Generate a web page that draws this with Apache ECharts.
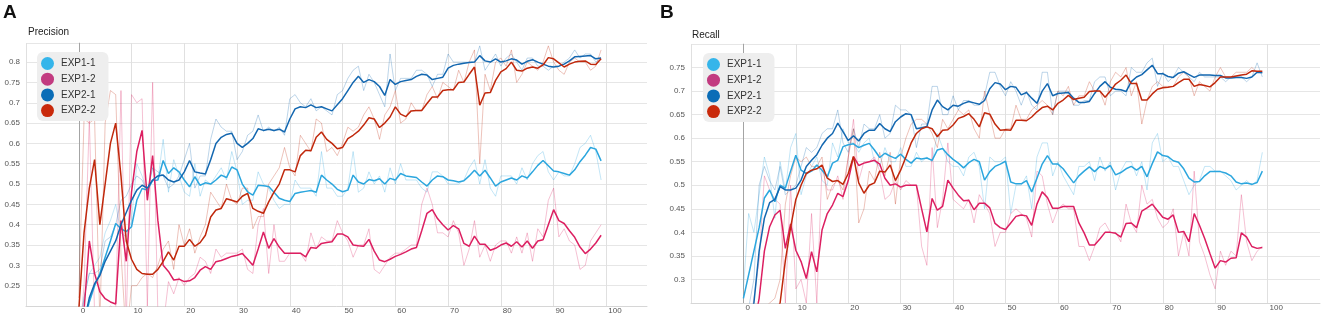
<!DOCTYPE html>
<html>
<head>
<meta charset="utf-8">
<title>Precision / Recall</title>
<script src="https://cdn.jsdelivr.net/npm/echarts@6/dist/echarts.min.js"></script>
<style>
  html, body { margin: 0; padding: 0; background: #fff; }
  #chart { width: 1325px; height: 325px; }
</style>
</head>
<body>
<div id="chart"></div>
<script>
const names = ["EXP1-1", "EXP1-2", "EXP2-1", "EXP2-2"];
const lineColors = ["#2ba6de", "#dc1f61", "#1367b0", "#c0280c"];
const legendColors = ["#35b5ea", "#c23b80", "#0b6db7", "#c9290b"];

// Precision, smoothed
const precS11 = [
  0.12,0.16,0.21,0.25,0.28,0.32,0.36,0.403,0.39,0.383,
  0.395,0.46,0.489,0.485,0.509,0.51,0.558,0.526,0.54,0.53,
  0.51,0.493,0.518,0.497,0.503,0.50,0.51,0.522,0.516,0.542,
  0.535,0.50,0.481,0.473,0.497,0.496,0.494,0.48,0.465,0.46,
  0.457,0.477,0.48,0.482,0.484,0.48,0.522,0.51,0.50,0.487,
  0.481,0.485,0.522,0.505,0.50,0.511,0.508,0.513,0.50,0.514,
  0.51,0.526,0.52,0.518,0.516,0.505,0.495,0.51,0.52,0.518,
  0.51,0.508,0.505,0.508,0.52,0.534,0.52,0.534,0.515,0.495,
  0.505,0.51,0.515,0.51,0.52,0.515,0.53,0.546,0.558,0.545,
  0.532,0.53,0.526,0.522,0.535,0.555,0.571,0.59,0.586,0.557];
const precS12 = [
  0.10,0.19,0.36,0.28,0.235,0.218,0.21,0.205,0.41,0.31,
  0.48,0.58,0.632,0.46,0.57,0.41,0.30,0.285,0.264,0.266,
  0.26,0.262,0.27,0.288,0.297,0.29,0.309,0.312,0.317,0.322,
  0.325,0.329,0.315,0.30,0.34,0.382,0.342,0.366,0.345,0.33,
  0.33,0.33,0.33,0.321,0.344,0.342,0.354,0.356,0.358,0.377,
  0.377,0.37,0.35,0.348,0.347,0.364,0.335,0.313,0.309,0.315,
  0.322,0.327,0.333,0.34,0.344,0.385,0.428,0.437,0.415,0.40,
  0.387,0.398,0.39,0.354,0.347,0.372,0.352,0.352,0.337,0.342,
  0.35,0.355,0.347,0.358,0.345,0.36,0.342,0.36,0.363,0.40,
  0.437,0.41,0.403,0.385,0.369,0.345,0.329,0.34,0.355,0.374];
const precS21 = [
  0.10,0.16,0.22,0.255,0.275,0.31,0.335,0.36,0.40,0.43,
  0.46,0.485,0.497,0.49,0.51,0.52,0.522,0.51,0.505,0.51,
  0.53,0.558,0.53,0.527,0.525,0.56,0.60,0.615,0.622,0.625,
  0.60,0.59,0.60,0.612,0.636,0.632,0.635,0.632,0.635,0.628,
  0.66,0.685,0.69,0.688,0.695,0.688,0.69,0.685,0.68,0.695,
  0.71,0.73,0.75,0.765,0.75,0.757,0.752,0.74,0.718,0.757,
  0.745,0.752,0.755,0.757,0.765,0.77,0.768,0.757,0.76,0.763,
  0.785,0.792,0.795,0.797,0.799,0.80,0.816,0.803,0.80,0.808,
  0.80,0.803,0.808,0.805,0.795,0.802,0.806,0.80,0.795,0.79,
  0.788,0.79,0.795,0.803,0.813,0.814,0.815,0.816,0.808,0.81];
const precS22 = [
  0.19,0.38,0.49,0.56,0.40,0.50,0.60,0.65,0.52,0.36,
  0.315,0.29,0.28,0.278,0.278,0.29,0.31,0.333,0.313,0.347,
  0.347,0.364,0.347,0.356,0.374,0.419,0.436,0.44,0.464,0.46,
  0.456,0.47,0.477,0.44,0.433,0.428,0.456,0.48,0.50,0.535,
  0.535,0.53,0.57,0.583,0.582,0.615,0.628,0.61,0.60,0.587,
  0.59,0.612,0.62,0.63,0.645,0.663,0.66,0.639,0.65,0.665,
  0.69,0.672,0.666,0.68,0.681,0.681,0.698,0.714,0.714,0.73,
  0.732,0.732,0.75,0.751,0.77,0.788,0.694,0.724,0.725,0.755,
  0.776,0.784,0.80,0.78,0.778,0.785,0.788,0.785,0.793,0.811,
  0.808,0.798,0.788,0.795,0.80,0.802,0.803,0.795,0.794,0.808];

// Precision, raw
const precR11 = [
  0.14,0.22,0.28,0.30,0.32,0.38,0.41,0.45,0.38,0.37,
  0.41,0.55,0.52,0.48,0.54,0.51,0.61,0.48,0.56,0.52,
  0.48,0.47,0.55,0.47,0.51,0.50,0.52,0.54,0.51,0.58,
  0.53,0.45,0.46,0.46,0.53,0.50,0.49,0.46,0.44,0.45,
  0.45,0.51,0.49,0.49,0.49,0.47,0.58,0.49,0.49,0.47,
  0.47,0.49,0.58,0.48,0.49,0.53,0.50,0.52,0.48,0.54,
  0.50,0.55,0.51,0.51,0.51,0.49,0.48,0.53,0.53,0.52,
  0.50,0.50,0.50,0.51,0.54,0.56,0.50,0.56,0.49,0.47,
  0.52,0.52,0.52,0.50,0.54,0.51,0.55,0.57,0.58,0.53,
  0.51,0.53,0.52,0.52,0.55,0.59,0.60,0.62,0.58,0.51];
const precR12 = [
  0.10,0.25,0.66,0.18,0.17,0.19,0.20,0.19,0.73,0.15,
  0.72,0.70,0.71,0.20,0.75,0.18,0.15,0.26,0.23,0.27,
  0.25,0.27,0.28,0.32,0.31,0.28,0.34,0.32,0.33,0.33,
  0.33,0.34,0.29,0.28,0.40,0.44,0.28,0.40,0.31,0.31,
  0.33,0.33,0.33,0.31,0.38,0.34,0.37,0.36,0.36,0.41,
  0.38,0.36,0.32,0.35,0.35,0.39,0.29,0.28,0.30,0.32,
  0.33,0.33,0.34,0.35,0.35,0.45,0.49,0.45,0.38,0.38,
  0.37,0.41,0.38,0.30,0.34,0.41,0.32,0.35,0.31,0.35,
  0.36,0.36,0.33,0.37,0.33,0.38,0.31,0.39,0.37,0.46,
  0.49,0.37,0.39,0.36,0.35,0.29,0.30,0.36,0.38,0.40];
const precR21 = [
  0.12,0.22,0.28,0.28,0.29,0.36,0.37,0.40,0.46,0.47,
  0.50,0.52,0.51,0.48,0.54,0.53,0.52,0.49,0.50,0.52,
  0.56,0.60,0.49,0.52,0.52,0.61,0.66,0.64,0.63,0.63,
  0.56,0.58,0.62,0.63,0.67,0.63,0.64,0.63,0.64,0.62,
  0.71,0.72,0.70,0.69,0.71,0.68,0.69,0.68,0.67,0.72,
  0.73,0.76,0.78,0.79,0.73,0.77,0.75,0.72,0.69,0.82,
  0.73,0.76,0.76,0.76,0.78,0.78,0.77,0.74,0.77,0.77,
  0.82,0.80,0.80,0.80,0.80,0.80,0.84,0.78,0.80,0.82,
  0.79,0.81,0.82,0.80,0.78,0.81,0.81,0.79,0.79,0.78,
  0.79,0.79,0.80,0.81,0.83,0.81,0.82,0.82,0.80,0.81];
const precR22 = [
  0.22,0.66,0.65,0.66,0.16,0.65,0.73,0.72,0.33,0.12,
  0.25,0.25,0.27,0.28,0.27,0.30,0.34,0.36,0.29,0.40,
  0.35,0.39,0.33,0.37,0.40,0.48,0.46,0.44,0.50,0.46,
  0.45,0.49,0.49,0.39,0.42,0.42,0.50,0.52,0.54,0.59,
  0.54,0.52,0.62,0.60,0.58,0.66,0.65,0.58,0.59,0.57,
  0.60,0.64,0.63,0.64,0.67,0.69,0.66,0.61,0.67,0.69,
  0.73,0.65,0.66,0.70,0.68,0.68,0.72,0.74,0.71,0.75,
  0.74,0.73,0.78,0.75,0.80,0.83,0.55,0.77,0.73,0.80,
  0.81,0.79,0.83,0.75,0.77,0.80,0.79,0.78,0.80,0.84,
  0.80,0.78,0.77,0.80,0.81,0.80,0.80,0.78,0.79,0.83];

// Recall, smoothed
const recS11 = [
  0.26,0.31,0.36,0.41,0.473,0.49,0.465,0.50,0.494,0.53,
  0.564,0.532,0.525,0.53,0.543,0.532,0.518,0.547,0.553,0.582,
  0.586,0.588,0.58,0.585,0.589,0.575,0.559,0.568,0.562,0.557,
  0.566,0.555,0.547,0.558,0.556,0.558,0.553,0.575,0.578,0.565,
  0.555,0.547,0.537,0.548,0.555,0.55,0.511,0.529,0.54,0.545,
  0.551,0.507,0.503,0.503,0.51,0.486,0.515,0.545,0.563,0.545,
  0.545,0.535,0.52,0.505,0.52,0.53,0.539,0.529,0.54,0.535,
  0.542,0.522,0.527,0.535,0.54,0.532,0.54,0.518,0.546,0.571,
  0.563,0.561,0.552,0.549,0.535,0.515,0.507,0.508,0.52,0.529,
  0.529,0.529,0.526,0.52,0.507,0.503,0.505,0.502,0.506,0.53];
const recS12 = [
  0.10,0.15,0.20,0.26,0.36,0.412,0.437,0.447,0.366,0.418,
  0.362,0.338,0.302,0.359,0.316,0.405,0.44,0.458,0.483,0.476,
  0.51,0.561,0.542,0.547,0.55,0.553,0.545,0.515,0.50,0.503,
  0.496,0.50,0.50,0.50,0.45,0.401,0.472,0.447,0.455,0.511,
  0.494,0.479,0.467,0.468,0.448,0.462,0.462,0.452,0.419,0.41,
  0.406,0.42,0.434,0.437,0.435,0.415,0.46,0.486,0.474,0.451,
  0.451,0.455,0.455,0.455,0.42,0.399,0.373,0.373,0.386,0.40,
  0.40,0.398,0.39,0.419,0.42,0.41,0.445,0.452,0.46,0.446,
  0.432,0.428,0.437,0.40,0.402,0.38,0.44,0.415,0.387,0.355,
  0.324,0.34,0.337,0.345,0.346,0.399,0.39,0.37,0.366,0.368];
const recS21 = [
  0.18,0.21,0.25,0.36,0.43,0.463,0.47,0.497,0.49,0.49,
  0.494,0.511,0.54,0.553,0.565,0.585,0.60,0.61,0.632,0.614,
  0.595,0.605,0.594,0.61,0.617,0.617,0.631,0.62,0.614,0.635,
  0.645,0.652,0.65,0.62,0.622,0.625,0.66,0.681,0.667,0.66,
  0.67,0.668,0.674,0.678,0.675,0.672,0.68,0.705,0.718,0.715,
  0.703,0.71,0.708,0.692,0.697,0.685,0.674,0.70,0.716,0.69,
  0.695,0.696,0.697,0.685,0.676,0.676,0.678,0.695,0.71,0.72,
  0.708,0.704,0.703,0.699,0.72,0.73,0.735,0.745,0.755,0.737,
  0.737,0.731,0.729,0.738,0.741,0.735,0.729,0.734,0.734,0.734,
  0.733,0.733,0.728,0.728,0.729,0.729,0.727,0.73,0.74,0.739];
const recS22 = [
  0.10,0.12,0.14,0.16,0.19,0.21,0.23,0.25,0.34,0.41,
  0.47,0.50,0.525,0.532,0.535,0.543,0.515,0.508,0.51,0.502,
  0.525,0.561,0.505,0.483,0.50,0.505,0.53,0.528,0.543,0.51,
  0.532,0.56,0.59,0.61,0.62,0.624,0.62,0.603,0.617,0.618,
  0.628,0.642,0.646,0.652,0.64,0.624,0.654,0.651,0.63,0.617,
  0.618,0.617,0.638,0.638,0.637,0.645,0.656,0.665,0.668,0.66,
  0.674,0.681,0.691,0.682,0.685,0.687,0.699,0.70,0.70,0.687,
  0.70,0.715,0.723,0.734,0.716,0.716,0.681,0.681,0.694,0.704,
  0.707,0.708,0.71,0.718,0.725,0.725,0.71,0.714,0.712,0.709,
  0.718,0.73,0.73,0.73,0.732,0.734,0.736,0.743,0.742,0.742];

// Recall, raw
const recR11 = [
  0.28,0.44,0.40,0.48,0.56,0.52,0.43,0.55,0.49,0.58,
  0.61,0.48,0.52,0.54,0.56,0.51,0.50,0.59,0.56,0.62,
  0.59,0.59,0.57,0.59,0.60,0.55,0.54,0.58,0.55,0.55,
  0.58,0.54,0.54,0.57,0.55,0.56,0.55,0.61,0.58,0.55,
  0.54,0.54,0.52,0.56,0.57,0.54,0.45,0.56,0.55,0.55,
  0.56,0.44,0.50,0.50,0.52,0.45,0.56,0.59,0.59,0.52,
  0.55,0.52,0.50,0.48,0.54,0.54,0.55,0.51,0.56,0.53,
  0.55,0.49,0.53,0.55,0.55,0.52,0.55,0.49,0.59,0.61,
  0.55,0.56,0.54,0.54,0.51,0.48,0.50,0.51,0.54,0.54,
  0.53,0.53,0.52,0.51,0.49,0.50,0.51,0.50,0.51,0.57];
const recR12 = [
  0.10,0.18,0.26,0.34,0.52,0.49,0.47,0.46,0.25,0.50,
  0.28,0.30,0.25,0.44,0.25,0.54,0.49,0.49,0.52,0.47,
  0.56,0.64,0.51,0.55,0.55,0.56,0.53,0.47,0.48,0.51,
  0.49,0.51,0.50,0.50,0.37,0.33,0.58,0.41,0.47,0.59,
  0.47,0.46,0.45,0.47,0.42,0.48,0.46,0.44,0.37,0.40,
  0.40,0.44,0.45,0.44,0.43,0.39,0.53,0.52,0.46,0.42,
  0.45,0.46,0.45,0.45,0.37,0.37,0.34,0.37,0.41,0.42,
  0.40,0.40,0.38,0.46,0.42,0.40,0.50,0.46,0.47,0.43,
  0.41,0.42,0.45,0.35,0.40,0.35,0.53,0.38,0.35,0.31,
  0.28,0.36,0.33,0.36,0.35,0.48,0.38,0.34,0.36,0.37];
const recR21 = [
  0.20,0.24,0.30,0.50,0.54,0.51,0.49,0.54,0.48,0.49,
  0.50,0.54,0.58,0.57,0.58,0.61,0.62,0.62,0.66,0.59,
  0.57,0.62,0.58,0.63,0.62,0.62,0.65,0.60,0.61,0.67,
  0.66,0.66,0.65,0.58,0.63,0.63,0.71,0.71,0.65,0.65,
  0.69,0.66,0.68,0.68,0.67,0.67,0.69,0.74,0.74,0.71,
  0.69,0.72,0.70,0.67,0.70,0.67,0.66,0.74,0.74,0.65,
  0.70,0.70,0.70,0.67,0.67,0.68,0.68,0.72,0.73,0.73,
  0.69,0.70,0.70,0.69,0.75,0.74,0.74,0.76,0.77,0.71,
  0.74,0.72,0.73,0.75,0.74,0.73,0.72,0.74,0.73,0.73,
  0.73,0.73,0.72,0.73,0.73,0.73,0.72,0.73,0.76,0.73];
const recR22 = [
  0.10,0.13,0.16,0.18,0.24,0.25,0.26,0.30,0.46,0.52,
  0.56,0.55,0.56,0.54,0.54,0.56,0.47,0.50,0.51,0.49,
  0.56,0.62,0.42,0.45,0.53,0.51,0.57,0.52,0.57,0.46,
  0.56,0.60,0.63,0.64,0.64,0.63,0.61,0.58,0.64,0.62,
  0.64,0.66,0.65,0.66,0.62,0.60,0.70,0.65,0.60,0.60,
  0.62,0.62,0.67,0.64,0.64,0.66,0.67,0.68,0.67,0.65,
  0.70,0.69,0.71,0.67,0.69,0.69,0.72,0.70,0.70,0.67,
  0.72,0.74,0.73,0.75,0.69,0.72,0.63,0.68,0.71,0.72,
  0.71,0.71,0.71,0.73,0.74,0.73,0.69,0.72,0.71,0.70,
  0.73,0.75,0.73,0.73,0.74,0.74,0.74,0.75,0.74,0.74];

const precSmooth = [precS11, precS12, precS21, precS22];
const precRaw = [precR11, precR12, precR21, precR22];
const recSmooth = [recS11, recS12, recS21, recS22];
const recRaw = [recR11, recR12, recR21, recR22];

const font = "'Liberation Sans', Arial, Helvetica, sans-serif";

function pts(vals) {
  return vals.map((v, i) => [i, v]);
}

function line(name, vals, color, width, opacity, axis, z) {
  return {
    name,
    type: "line",
    xAxisIndex: axis,
    yAxisIndex: axis,
    data: pts(vals),
    symbol: "none",
    showSymbol: false,
    silent: true,
    z,
    itemStyle: { color },
    lineStyle: { color, width, opacity },
  };
}

// darker vertical line at step 0, kept under the legend box
function zeroLine(axis) {
  return {
    name: "zero" + axis,
    type: "line",
    xAxisIndex: axis,
    yAxisIndex: axis,
    data: [],
    silent: true,
    z: 0,
    markLine: {
      z: 1,
      silent: true,
      symbol: ["none", "none"],
      label: { show: false },
      lineStyle: { color: "#a4a4a4", type: "solid", width: 1 },
      data: [{ xAxis: 0 }],
    },
  };
}

function yFormatter(min, max) {
  return (v) => (v <= min + 1e-6 || v >= max - 1e-6 ? "" : String(Math.round(v * 100) / 100));
}

function xAxis(grid, max) {
  return {
    type: "value",
    gridIndex: grid,
    min: -10,
    max,
    interval: 10,
    axisLine: { show: true, lineStyle: { color: "#d6d6d6", width: 1 } },
    axisTick: { show: false },
    axisLabel: {
      color: "#555",
      fontSize: 8,
      fontFamily: font,
      align: "left",
      margin: 1,
      padding: [0, 0, 0, 2],
      formatter: (v) => (v < 0 || v > 100 ? "" : String(v)),
    },
    splitLine: {
      show: true,
      showMaxLine: false,
      lineStyle: { width: 1, color: "#e0e0e0" },
    },
  };
}

function yAxis(grid, min, max) {
  return {
    type: "value",
    gridIndex: grid,
    min,
    max,
    interval: 0.05,
    axisLine: { show: true, lineStyle: { color: "#cccccc", width: 1 } },
    axisTick: { show: false },
    axisLabel: {
      color: "#555",
      fontSize: 8,
      fontFamily: font,
      margin: 6,
      formatter: yFormatter(min, max),
    },
    splitLine: { show: true, lineStyle: { color: "#e6e6e6", width: 1 } },
  };
}

function legend(left, top) {
  return {
    orient: "vertical",
    left,
    top,
    z: 10,
    data: names.map((n, i) => ({ name: n, itemStyle: { color: legendColors[i] } })),
    icon: "circle",
    itemWidth: 17,
    itemHeight: 13,
    itemGap: 2.7,
    backgroundColor: "#eeeeee",
    borderRadius: 6,
    padding: [5, 13, 4, 4],
    selectedMode: false,
    textStyle: { fontSize: 10, color: "#333", fontFamily: font },
  };
}

const series = [zeroLine(0), zeroLine(1)];
precRaw.forEach((vals, i) => series.push(line(names[i] + " raw", vals, lineColors[i], 1, 0.28, 0, 1)));
recRaw.forEach((vals, i) => series.push(line(names[i] + " raw", vals, lineColors[i], 1, 0.28, 1, 1)));
precSmooth.forEach((vals, i) => series.push(line(names[i], vals, lineColors[i], 1.5, 1, 0, 3)));
recSmooth.forEach((vals, i) => series.push(line(names[i], vals, lineColors[i], 1.5, 1, 1, 3)));

const chart = echarts.init(document.getElementById("chart"), null, { renderer: "canvas" });
chart.setOption({
  animation: false,
  backgroundColor: "#ffffff",
  textStyle: { fontFamily: font },
  title: [
    { text: "A", left: 3, top: 3, padding: 0, textStyle: { fontSize: 19, fontWeight: "bold", color: "#111", fontFamily: font } },
    { text: "Precision", left: 28, top: 27, padding: 0, textStyle: { fontSize: 10, fontWeight: "normal", color: "#222", fontFamily: font } },
    { text: "B", left: 660, top: 3, padding: 0, textStyle: { fontSize: 19, fontWeight: "bold", color: "#111", fontFamily: font } },
    { text: "Recall", left: 692, top: 30, padding: 0, textStyle: { fontSize: 10, fontWeight: "normal", color: "#222", fontFamily: font } },
  ],
  legend: [legend(37, 52), legend(703, 53)],
  grid: [
    { left: 26, top: 43, width: 621, height: 263, containLabel: false },
    { left: 691, top: 44, width: 629, height: 259, containLabel: false },
  ],
  xAxis: [xAxis(0, 107.7), xAxis(1, 110)],
  yAxis: [yAxis(0, 0.2, 0.847), yAxis(1, 0.25, 0.8)],
  series,
});
</script>
</body>
</html>
